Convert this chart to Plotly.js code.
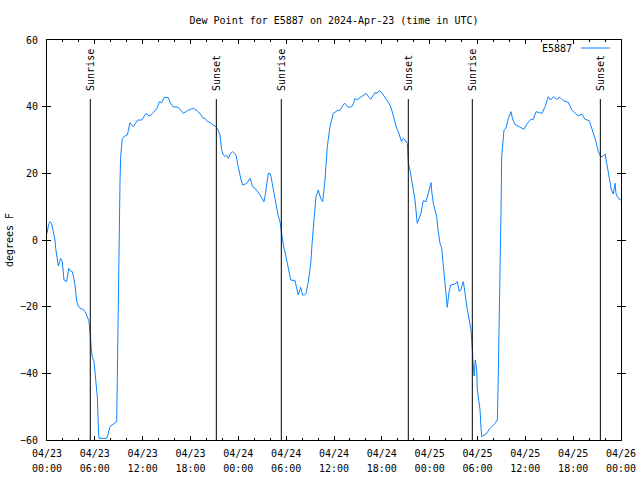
<!DOCTYPE html>
<html>
<head>
<meta charset="utf-8">
<script src="https://cdn.plot.ly/plotly-3.0.1.min.js"></script>
<style>html,body{margin:0;padding:0;background:#fff}#chart{width:640px;height:480px}</style>
</head>
<body>
<div id="chart"></div>
<script>
// hours since 2024-04-23 00:00 UTC
const hours = [0,0.19,0.38,0.56,0.75,0.88,1.0,1.09,1.29,1.42,1.72,1.92,2.04,2.13,2.47,2.60,2.72,2.89,3.17,3.32,3.51,3.73,3.93,4.14,4.55,4.77,4.98,5.14,5.27,5.39,5.48,5.56,5.68,5.90,6.11,6.21,6.31,6.44,6.52,6.77,7.49,7.69,7.90,8.15,8.74,8.82,8.94,9.01,9.16,9.24,9.45,9.78,10.07,10.22,10.41,10.62,10.83,11.10,11.38,11.88,12.17,12.42,12.67,12.92,13.23,13.55,13.80,14.09,14.39,14.71,15.22,15.49,15.77,16.47,16.81,17.10,17.44,17.72,18.00,18.35,18.69,18.98,19.32,19.61,19.82,20.14,20.45,20.82,21.20,21.45,21.70,21.91,22.12,22.33,22.52,22.74,23.02,23.29,23.52,23.71,23.90,24.12,24.34,24.55,25.05,25.46,25.80,26.22,26.47,26.72,26.97,27.22,27.41,27.60,27.76,27.97,28.10,28.25,28.39,28.56,28.73,28.98,29.23,29.39,29.64,29.98,30.27,30.57,31.11,31.30,31.52,31.82,32.07,32.30,32.49,32.78,33.08,33.28,33.43,33.62,33.74,34.03,34.33,34.58,34.87,35.16,35.50,35.91,36.34,36.75,37.00,37.29,37.57,37.79,38.22,38.45,38.64,38.85,39.14,39.48,39.77,40.02,40.33,40.61,40.90,41.14,41.39,41.68,41.96,42.27,42.52,42.81,43.03,43.24,43.47,43.65,43.87,44.07,44.28,44.47,44.69,44.91,45.20,45.32,45.53,45.74,45.94,46.16,46.44,46.69,46.91,47.20,47.54,47.83,48.17,48.29,48.46,48.67,48.88,49.05,49.30,49.51,49.64,49.80,49.92,50.05,50.21,50.43,50.64,51.18,51.47,51.72,51.93,52.14,52.22,52.34,52.47,52.65,52.85,53.06,53.19,53.31,53.44,53.57,53.73,53.90,53.98,54.15,54.32,54.44,54.53,55.07,55.57,56.19,56.49,56.57,56.70,56.82,56.91,56.97,57.03,57.32,57.57,57.87,58.20,58.41,58.70,59.24,59.83,60.25,60.68,61.00,61.34,61.75,62.09,62.47,62.88,63.18,63.51,63.93,64.35,64.76,65.39,65.82,66.23,66.64,67.07,67.49,68.02,68.33,68.74,69.16,69.46,69.79,70.00,70.21,70.54,70.80,71.03,71.25,71.37,71.54,71.79,72.0];
const dewPoint = [2,4.5,5.5,5,3,1.5,0,-2.5,-6,-7.8,-5.5,-6.5,-9.5,-12,-12.5,-10,-8.5,-9.2,-9.5,-11,-13.5,-18.5,-19.8,-20.5,-20.8,-21.5,-22.5,-23.5,-24.5,-27,-30,-33,-35,-36.5,-41,-44,-47,-56,-59.5,-59.5,-59.5,-58,-56,-55.5,-54.5,-41,-14,3,18,25,30.5,31.2,31.5,33,35.2,34.5,34,35,36,36,37,38,37.5,37.2,38,39,39.5,41.5,41.2,42.8,42.7,41,40,39.8,39,38,38.5,39,39.2,39.5,39,38.5,37.5,36.5,36.5,35.5,35.3,34.5,34,33,31.5,27,25.5,25,25.5,24.5,26,26.5,26,25.5,23,20,18,16.5,17,18.5,16,15.2,14.5,13.5,12.5,11.5,14,18,20,20,19,17,15,12.5,10,7.5,5.5,2.5,-1.5,-5,-9,-12,-12.2,-14,-16.5,-14.2,-16.5,-16.5,-16,-12.5,-7,0,4,10,13,15,12.5,11.5,18,28,34,38,38.7,39,40,41,40.5,39.8,40,41,42.5,42,42.5,43,43.5,44,43,42.2,43.3,44.2,44,44.8,44.3,43.2,42.5,41.5,40.5,39,37,35,33.5,32.5,30.5,29.5,30.5,30,29,23,21,18,14,12,5,6.5,8,11.8,11.5,14,17.2,14,11,9,7,3,-1,-2.5,-6.2,-9.5,-12.5,-15.5,-20.2,-15.5,-13.5,-13.2,-12.5,-15.5,-14.8,-13,-12.5,-14.2,-17.5,-19.8,-22.5,-25,-27,-31.5,-38,-40.8,-36,-39,-45,-48,-51,-56.5,-59,-58.2,-56.5,-55,-54,-45.5,-29.5,-10.5,3,11.5,25,33,33.5,36.5,38.5,36.2,34.7,34,33.2,35,36.2,36.2,38.5,38.2,38,40,43,42,43,42.2,42.8,41.8,41.3,39,38,37.2,37.8,36.2,35.8,33.5,30.5,26.5,25,25.2,25.8,23,19,15,13.8,17,14,13,12.2,12];

// sun events (hours since start) and labels
const sunHours = [5.43, 21.24, 29.39, 45.32, 53.35, 69.41];
const sunLabels = ["Sunrise","Sunset","Sunrise","Sunset","Sunrise","Sunset"];

const tickHours = [0,6,12,18,24,30,36,42,48,54,60,66,72];
const tickDates = ["04/23","04/23","04/23","04/23","04/24","04/24","04/24","04/24","04/25","04/25","04/25","04/25","04/26"];
const tickTimes = ["00:00","06:00","12:00","18:00","00:00","06:00","12:00","18:00","00:00","06:00","12:00","18:00","00:00"];

const base = Date.UTC(2024,3,23,0,0,0);
function pad(n){return (n<10?'0':'')+n;}
function toDate(h){
  const d = new Date(base + Math.round(h*3600000));
  return d.getUTCFullYear()+'-'+pad(d.getUTCMonth()+1)+'-'+pad(d.getUTCDate())+' '+pad(d.getUTCHours())+':'+pad(d.getUTCMinutes())+':'+pad(d.getUTCSeconds());
}

const FONT = {family:'DejaVu Sans Mono, Liberation Mono, monospace', size:10, color:'#000'};
const xRange = [toDate(0), toDate(72)];

const trace = {
  x: hours.map(toDate), y: dewPoint, type:'scatter', mode:'lines',
  line:{color:'#0a84ff', width:1}, showlegend:false, hoverinfo:'skip'
};
// helper trace so the second tick-label row (times) is drawn
const timeRow = {
  x: [toDate(0)], y: [0], xaxis:'x2', yaxis:'y', type:'scatter', mode:'markers',
  marker:{opacity:0, size:1}, showlegend:false, hoverinfo:'skip'
};

const shapes = sunHours.map(h => ({
  type:'line', xref:'x', yref:'y', x0:toDate(h), x1:toDate(h), y0:-60, y1:42.3,
  line:{color:'#000', width:1}
}));
shapes.push({type:'line', xref:'paper', yref:'paper', x0:0.930, x1:0.981, y0:0.98, y1:0.98, line:{color:'#0a84ff', width:1}});

const annotations = sunHours.map((h,i) => ({
  x:toDate(h), y:44.2, xref:'x', yref:'y', text:sunLabels[i], textangle:-90,
  showarrow:false, xanchor:'center', yanchor:'bottom', font:FONT
}));
annotations.push({x:0.918, y:0.98, xref:'paper', yref:'paper', text:'E5887', showarrow:false, xanchor:'right', yanchor:'middle', font:FONT});

const layout = {
  width:640, height:480,
  margin:{l:47, r:19, t:40, b:40},
  paper_bgcolor:'#fff', plot_bgcolor:'#fff',
  font:FONT,
  title:{text:'Dew Point for E5887 on 2024-Apr-23 (time in UTC)', font:FONT, x:0.5, xref:'paper', y:1-20/480, yref:'container', yanchor:'middle'},
  xaxis:{
    type:'date', range:xRange,
    tickmode:'array', tickvals:tickHours.map(toDate), ticktext:tickDates,
    ticks:'inside', ticklen:4, tickcolor:'#000', tickwidth:1,
    minor:{dtick:7200000, tick0:toDate(0), ticks:'inside', ticklen:2, tickcolor:'#000', tickwidth:1, showgrid:false},
    showline:true, linecolor:'#000', linewidth:1, mirror:'allticks',
    showgrid:false, zeroline:false, tickfont:FONT, ticklabelstandoff:4
  },
  xaxis2:{
    type:'date', range:xRange, overlaying:'x', anchor:'y', side:'bottom',
    tickmode:'array', tickvals:tickHours.map(toDate), ticktext:tickTimes,
    ticks:'', showline:false, showgrid:false, zeroline:false, tickfont:FONT, ticklabelstandoff:21
  },
  yaxis:{
    range:[-60,60], tickmode:'linear', tick0:-60, dtick:20,
    ticks:'inside', ticklen:4, tickcolor:'#000', tickwidth:1,
    showline:true, linecolor:'#000', linewidth:1, mirror:'allticks',
    showgrid:false, zeroline:false, tickfont:FONT, ticklabelstandoff:6,
    title:{text:'degrees F', font:FONT, standoff:4}
  },
  shapes:shapes, annotations:annotations, showlegend:false
};

Plotly.newPlot('chart', [trace, timeRow], layout, {staticPlot:true, displayModeBar:false});
</script>
</body>
</html>
